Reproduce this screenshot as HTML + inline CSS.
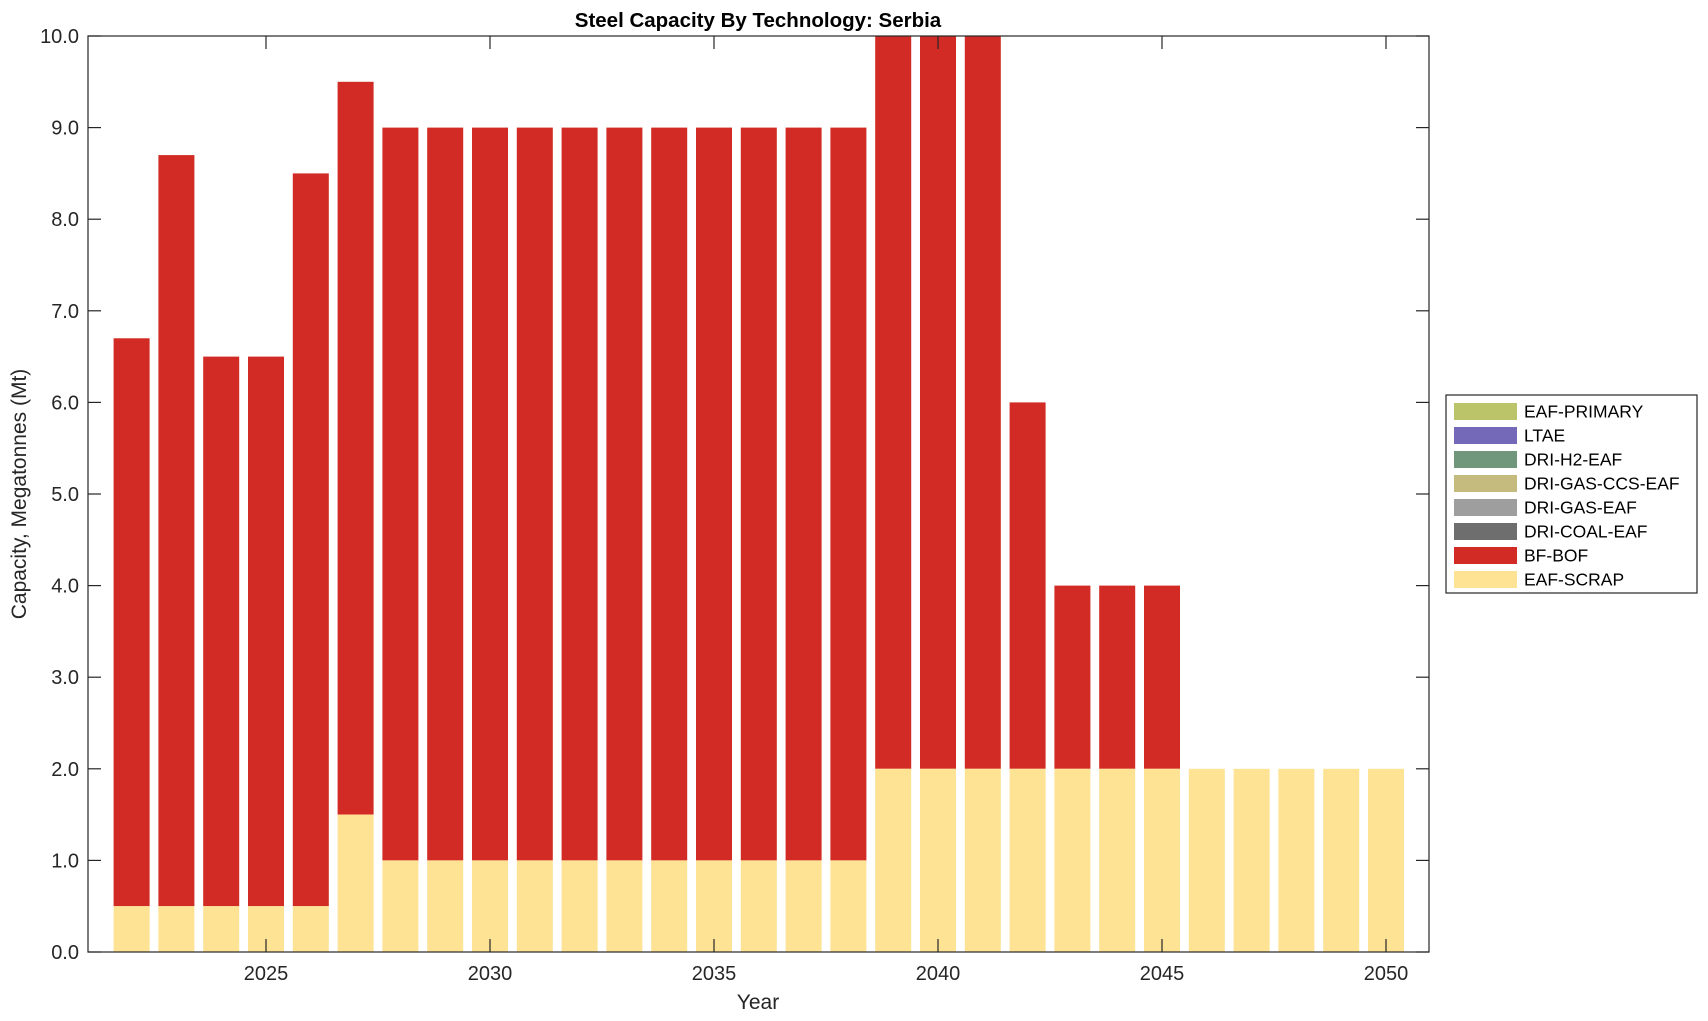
<!DOCTYPE html>
<html><head><meta charset="utf-8"><style>
body{margin:0;background:#fff;}
svg{display:block;font-family:"Liberation Sans",Arial,sans-serif;}
</style></head><body>
<svg id="s" width="1708" height="1021" xmlns="http://www.w3.org/2000/svg">
<rect width="1708" height="1021" fill="#fff"/>
<g id="bars"></g>
<rect x="88" y="36" width="1341" height="916" fill="none" stroke="#262626" stroke-width="1.2"/>
<g id="ticks" stroke="#262626" stroke-width="1.2"></g>
<g id="labels" fill="#262626" font-size="20"></g>
<text x="758" y="27" text-anchor="middle" font-size="20.5" font-weight="bold" fill="#000">Steel Capacity By Technology: Serbia</text>
<text x="758" y="1009" text-anchor="middle" font-size="21" fill="#262626">Year</text>
<text transform="translate(26,494) rotate(-90)" text-anchor="middle" font-size="21" fill="#262626">Capacity, Megatonnes (Mt)</text>
<g id="legend"></g>
</svg>
<script>
const NS="http://www.w3.org/2000/svg";
function el(p,t,a,txt){const e=document.createElementNS(NS,t);for(const k in a)e.setAttribute(k,a[k]);if(txt!==undefined)e.textContent=txt;document.getElementById(p).appendChild(e);}
const X=y=>266+(y-2025)*44.8, Y=v=>952-v*91.6;
const tot=[6.7,8.7,6.5,6.5,8.5,9.5,9,9,9,9,9,9,9,9,9,9,9,10,10,10,6,4,4,4,2,2,2,2,2];
const scr=[0.5,0.5,0.5,0.5,0.5,1.5,1,1,1,1,1,1,1,1,1,1,1,2,2,2,2,2,2,2,2,2,2,2,2];
for(let i=0;i<29;i++){const yr=2022+i,x=X(yr)-18;
 if(tot[i]>scr[i])el("bars","rect",{x:x,y:Y(tot[i]),width:36,height:Y(scr[i])-Y(tot[i]),fill:"#d22b25"});
 el("bars","rect",{x:x,y:Y(scr[i]),width:36,height:Y(0)-Y(scr[i]),fill:"#fee394"});}
for(let v=0;v<=10;v++){const y=Y(v);
 el("ticks","line",{x1:88,x2:101,y1:y,y2:y});el("ticks","line",{x1:1429,x2:1416,y1:y,y2:y});
 el("labels","text",{x:79,y:y+7,"text-anchor":"end"},v.toFixed(1));}
for(let yr=2025;yr<=2050;yr+=5){const x=X(yr);
 el("ticks","line",{x1:x,x2:x,y1:952,y2:939});el("ticks","line",{x1:x,x2:x,y1:36,y2:49});
 el("labels","text",{x:x,y:980,"text-anchor":"middle"},yr);}
el("legend","rect",{x:1446,y:395,width:251,height:198,fill:"#fff",stroke:"#262626","stroke-width":1.2});
const L=[["EAF-PRIMARY","#bcc46a"],["LTAE","#7468b8"],["DRI-H2-EAF","#70977b"],["DRI-GAS-CCS-EAF","#c6bb7e"],["DRI-GAS-EAF","#9e9e9e"],["DRI-COAL-EAF","#6e6e6e"],["BF-BOF","#d22b25"],["EAF-SCRAP","#fee394"]];
L.forEach((l,i)=>{const cy=411+i*24;
 el("legend","rect",{x:1454,y:cy-8,width:63,height:17,fill:l[1]});
 el("legend","text",{x:1524,y:cy+6.5,"font-size":"17.5",fill:"#000"},l[0]);});
</script>
</body></html>
